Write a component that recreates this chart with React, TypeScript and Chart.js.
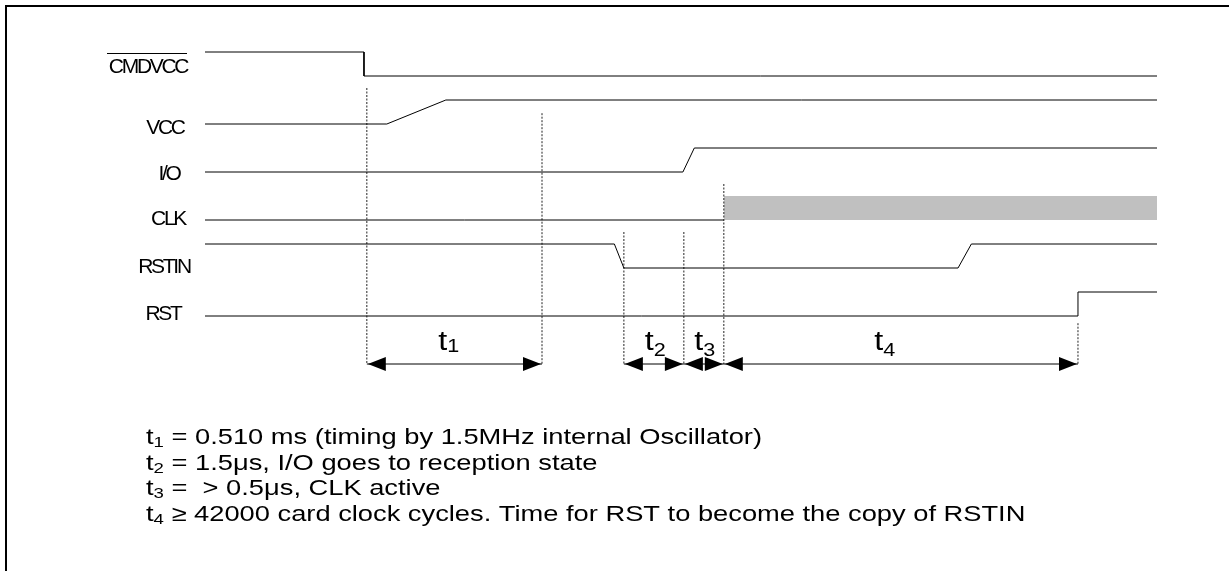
import { useEffect, useRef } from "react";
import { Chart, registerables } from "chart.js";

Chart.register(...registerables);

// ---- Data (time axis in arbitrary units 0..100, rows in half-levels) ----
const signalNames = ["CMDVCC", "VCC", "I/O", "CLK", "RSTIN", "RST"];

const cmdvccTimes = [0, 16.7, 16.7, 100];
const cmdvccLevels = [0, 0, 1, 1];
const vccTimes = [0, 19.1, 25.3, 100];
const vccLevels = [3, 3, 2, 2];
const ioTimes = [0, 50.2, 51.4, 100];
const ioLevels = [5, 5, 4, 4];
const clkTimes = [0, 54.5];
const clkLevels = [7, 7];
const clkActiveTimes = [54.5, 100];
const clkActiveTop = 6;
const clkActiveBottom = 7;
const rstinTimes = [0, 43.0, 44.0, 79.1, 80.5, 100];
const rstinLevels = [8, 8, 9, 9, 8, 8];
const rstTimes = [0, 91.7, 91.7, 100];
const rstLevels = [11, 11, 10, 10];

const markerTimes = [17.0, 35.4, 44.0, 50.3, 54.5, 91.7];
const markerTops = [1.5, 2.55, 7.5, 7.5, 5.5, 11.3];
const arrowRow = 13;

const intervalSubs = ["1", "2", "3", "4"];
const intervalStarts = [17.0, 44.0, 50.3, 54.5];
const intervalEnds = [35.4, 50.3, 54.5, 91.7];
const intervalLabelTimes = [25.6, 47.3, 52.5, 71.4];

const signalLabelX = [147, 164, 168, 167, 163, 162];
const signalLabelRows = [0.875, 3.42, 5.33, 7.2, 9.2, 11.17];

const noteSubs = ["1", "2", "3", "4"];
const noteTexts = [
  " = 0.510 ms (timing by 1.5MHz internal Oscillator)",
  " = 1.5\u03bcs, I/O goes to reception state",
  " =  > 0.5\u03bcs, CLK active",
  " \u2265 42000 card clock cycles. Time for RST to become the copy of RSTIN",
];

const FONT = '"Liberation Sans", Arial, sans-serif';
const STRETCH = 1.24;

function pts(xs: number[], ys: number[]) {
  return xs.map((x, i) => ({ x, y: ys[i] }));
}

function drawSubText(
  ctx: CanvasRenderingContext2D,
  x: number,
  y: number,
  size: number,
  subSize: number,
  subDy: number,
  sub: string,
  rest: string
) {
  ctx.font = `${size}px ${FONT}`;
  ctx.fillText("t", x, y);
  let cx = x + ctx.measureText("t").width;
  ctx.font = `${subSize}px ${FONT}`;
  ctx.fillText(sub, cx, y + subDy);
  cx += ctx.measureText(sub).width;
  if (rest) {
    ctx.font = `${size}px ${FONT}`;
    ctx.fillText(rest, cx, y);
  }
}

export default function App() {
  const ref = useRef<HTMLCanvasElement | null>(null);

  useEffect(() => {
    document.body.style.margin = "0";
    const canvas = ref.current;
    if (!canvas) return;

    const lineDs = (data: any[], extra: any = {}) => ({
      data,
      borderColor: "#000",
      borderWidth: 1,
      pointRadius: 0,
      tension: 0,
      fill: false,
      clip: false,
      ...extra,
    });

    const datasets: any[] = [
      lineDs(pts(clkActiveTimes, clkActiveTimes.map(() => clkActiveTop)), {
        fill: { value: clkActiveBottom },
        backgroundColor: "#c0c0c0",
        borderWidth: 0,
        borderColor: "rgba(0,0,0,0)",
        order: 10,
      }),
      lineDs(pts(cmdvccTimes, cmdvccLevels)),
      lineDs(pts(vccTimes, vccLevels)),
      lineDs(pts(ioTimes, ioLevels)),
      lineDs(pts(clkTimes, clkLevels)),
      lineDs(pts(rstinTimes, rstinLevels)),
      lineDs(pts(rstTimes, rstLevels)),
    ];
    markerTimes.forEach((t, i) => {
      datasets.push(
        lineDs(
          [
            { x: t, y: markerTops[i] },
            { x: t, y: arrowRow },
          ],
          { borderDash: [2, 1.5], borderColor: "#222", order: 5 }
        )
      );
    });
    intervalStarts.forEach((s, i) => {
      datasets.push(
        lineDs([
          { x: s, y: arrowRow },
          { x: intervalEnds[i], y: arrowRow },
        ])
      );
    });

    const decor = {
      id: "decor",
      beforeDraw(chart: any) {
        const c = chart.ctx as CanvasRenderingContext2D;
        c.save();
        c.fillStyle = "#fff";
        c.fillRect(0, 0, chart.width, chart.height);
        c.strokeStyle = "#000";
        c.lineWidth = 2;
        c.strokeRect(6, 6, chart.width + 20, chart.height + 20);
        c.restore();
      },
      afterDatasetsDraw(chart: any) {
        const c = chart.ctx as CanvasRenderingContext2D;
        const xs = chart.scales.x;
        const ys = chart.scales.y;
        c.save();
        c.fillStyle = "#000";
        // arrowheads
        const ay = ys.getPixelForValue(arrowRow);
        const L = 18;
        const H = 7;
        const head = (tipX: number, dir: number) => {
          c.beginPath();
          c.moveTo(tipX, ay);
          c.lineTo(tipX + dir * L, ay - H);
          c.lineTo(tipX + dir * L, ay + H);
          c.closePath();
          c.fill();
        };
        intervalStarts.forEach((s, i) => {
          head(xs.getPixelForValue(s) + 1, 1);
          head(xs.getPixelForValue(intervalEnds[i]) - 1, -1);
        });
        // interval labels (horizontally stretched like the source)
        c.textBaseline = "alphabetic";
        c.textAlign = "left";
        intervalSubs.forEach((sub, i) => {
          c.font = `27px ${FONT}`;
          const w1 = c.measureText("t").width;
          c.font = `18px ${FONT}`;
          const w2 = c.measureText(sub).width;
          const cx = xs.getPixelForValue(intervalLabelTimes[i]);
          const w = (w1 + w2) * 1.2;
          c.save();
          c.translate(cx - w / 2, 350);
          c.scale(1.2, 1);
          drawSubText(c, 0, 0, 27, 18, i === 0 ? 2 : 6, sub, "");
          c.restore();
        });
        // signal labels
        c.textAlign = "center";
        c.font = `21px ${FONT}`;
        (c as any).letterSpacing = "-2.3px";
        signalNames.forEach((name, i) => {
          c.fillText(name, signalLabelX[i] + 1, ys.getPixelForValue(signalLabelRows[i]));
        });
        (c as any).letterSpacing = "0px";
        // overline for CMDVCC
        c.strokeStyle = "#000";
        c.lineWidth = 1;
        c.beginPath();
        c.moveTo(107, 53.5);
        c.lineTo(187, 53.5);
        c.stroke();
        // notes
        c.textAlign = "left";
        noteTexts.forEach((txt, i) => {
          c.save();
          c.translate(146, 444 + i * 25.5);
          c.scale(STRETCH, 1);
          drawSubText(c, 0, 0, 22, 15, 3, noteSubs[i], txt);
          c.restore();
        });
        c.restore();
      },
    };

    const chart = new Chart(canvas, {
      type: "line",
      data: { datasets },
      options: {
        animation: false,
        responsive: false,
        events: [],
        layout: { padding: { left: 205, right: 72, top: 52, bottom: 39 } },
        scales: {
          x: { type: "linear", min: 0, max: 100, display: false },
          y: { type: "linear", min: 0, max: 20, reverse: true, display: false },
        },
        plugins: {
          legend: { display: false },
          tooltip: { enabled: false },
        },
      },
      plugins: [decor],
    } as any);

    return () => chart.destroy();
  }, []);

  return (
    <div style={{ width: 1229, height: 571 }}>
      <canvas ref={ref} width={1229} height={571} style={{ display: "block" }} />
    </div>
  );
}
